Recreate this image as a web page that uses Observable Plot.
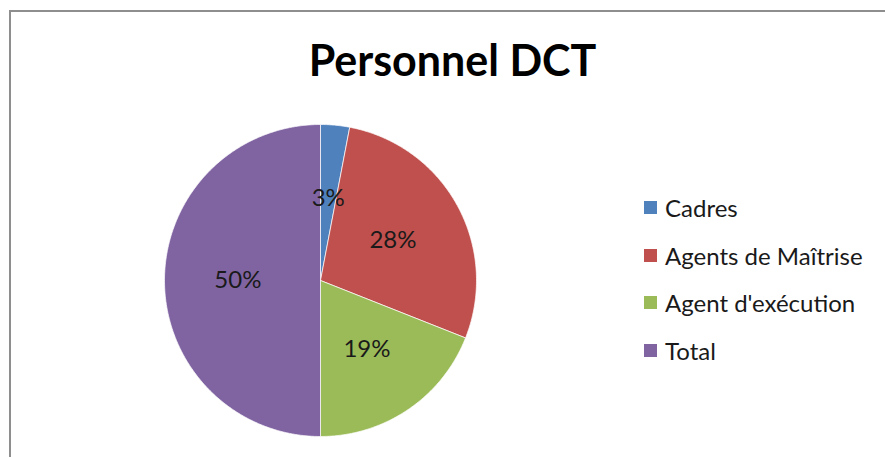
<!DOCTYPE html>
<html><head><meta charset="utf-8">
<script src="https://cdn.jsdelivr.net/npm/d3@7"></script>
<script src="https://cdn.jsdelivr.net/npm/@observablehq/plot@0.6"></script>
<style>
body{margin:0;background:#fff;}
#wrap{position:relative;width:885px;height:457px;overflow:hidden;font-family:Lato,"Open Sans",sans-serif;}
#frame{position:absolute;left:9px;top:10px;width:900px;height:460px;border-top:2px solid #8e8e8e;border-left:2px solid #8e8e8e;}
#chart{position:absolute;left:0;top:0;}
#title{position:absolute;left:10px;width:885px;top:38px;text-align:center;font-weight:bold;font-size:43px;line-height:43px;color:#000;}
#legend{position:absolute;left:644px;top:184px;}
.item{display:flex;align-items:center;height:47.5px;font-size:24px;color:#1a1a1a;}
.sw{width:13px;height:13px;margin-right:8px;}
</style></head>
<body><div id="wrap"><div id="frame"></div><div id="chart"></div><div id="title">Personnel DCT</div><div id="legend"></div></div>
<script>
const categories = ["Cadres","Agents de Maîtrise","Agent d'exécution","Total"];
const values = [3, 28, 19, 50];
const labels = ["3%","28%","19%","50%"];
const colors = ["#4F81BD","#C0504D","#9BBB59","#8064A2"];

const arcs = d3.pie().sort(null).value(d => d)(values);
const pts = [];
arcs.forEach((a, i) => {
  pts.push({cat: categories[i], x: 0, y: 0});
  const n = Math.max(4, Math.ceil((a.endAngle - a.startAngle) / 0.01));
  for (let k = 0; k <= n; k++) {
    const t = a.startAngle + (a.endAngle - a.startAngle) * k / n;
    pts.push({cat: categories[i], x: Math.sin(t), y: Math.cos(t)});
  }
  pts.push({cat: categories[i], x: 0, y: 0});
});
const lab = arcs.map((a, i) => {
  const m = (a.startAngle + a.endAngle) / 2;
  return {x: 0.53 * Math.sin(m), y: 0.53 * Math.cos(m), text: labels[i]};
});

const chart = Plot.plot({
  width: 885, height: 457, margin: 0,
  style: {fontFamily: "Lato, 'Open Sans', sans-serif", background: "transparent"},
  x: {domain: [-1, 1], range: [164, 476], axis: null},
  y: {domain: [-1, 1], range: [436, 124], axis: null},
  color: {domain: categories, range: colors},
  marks: [
    Plot.line(pts, {x: "x", y: "y", z: "cat", fill: "cat", stroke: "white", strokeWidth: 1, strokeOpacity: 0.7}),
    Plot.text(lab, {x: "x", y: "y", text: "text", fontSize: 24, fill: "#1a1a1a"})
  ]
});
document.getElementById("chart").appendChild(chart);

const leg = document.getElementById("legend");
categories.forEach((c, i) => {
  const d = document.createElement("div");
  d.className = "item";
  d.innerHTML = `<span class="sw" style="background:${colors[i]}"></span><span>${c}</span>`;
  leg.appendChild(d);
});
</script></body></html>
